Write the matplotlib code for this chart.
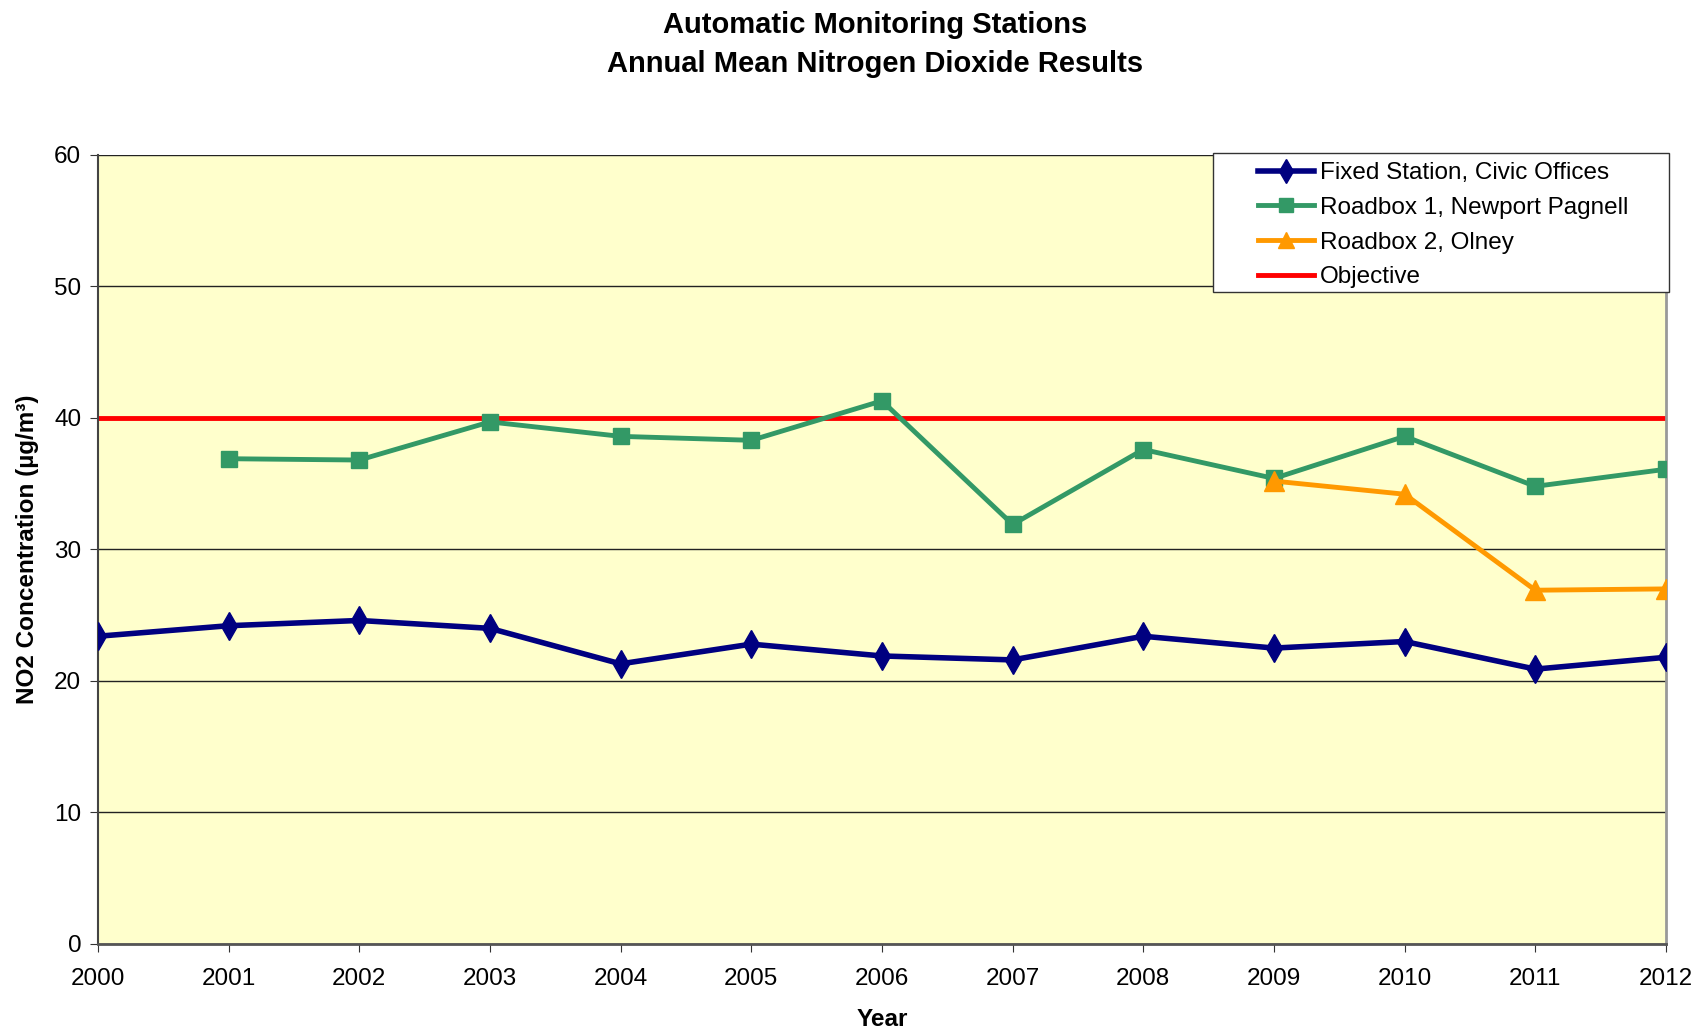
import matplotlib
matplotlib.use("Agg")
import matplotlib.pyplot as plt
from matplotlib.patches import Rectangle

plt.rcParams['font.family'] = ['Liberation Sans', 'DejaVu Sans']

years = list(range(2000, 2013))
fixed_station = [23.4, 24.2, 24.6, 24.0, 21.3, 22.8, 21.9, 21.6, 23.4, 22.5, 23.0, 20.9, 21.8]
roadbox1_years = list(range(2001, 2013))
roadbox1 = [36.9, 36.8, 39.7, 38.6, 38.3, 41.3, 31.9, 37.6, 35.4, 38.6, 34.8, 36.1]
roadbox2_years = [2009, 2010, 2011, 2012]
roadbox2 = [35.2, 34.2, 26.9, 27.0]
objective = 40
y_ticks = [0, 10, 20, 30, 40, 50, 60]

fig = plt.figure(figsize=(17, 10.33), dpi=100, facecolor='w')
ax = fig.add_axes([0.0576, 0.0862, 0.9224, 0.7638])
ax.set_facecolor('#FFFFCC')

ax.plot(years, fixed_station, '-d', color='#000080', lw=4, ms=14,
        label='Fixed Station, Civic Offices', zorder=4)
ax.plot(roadbox1_years, roadbox1, '-s', color='#339966', lw=3.5, ms=11.5,
        label='Roadbox 1, Newport Pagnell', zorder=3)
ax.plot(roadbox2_years, roadbox2, '-^', color='#FF9900', lw=3.5, ms=14,
        label='Roadbox 2, Olney', zorder=5)
ax.plot([years[0], years[-1]], [objective, objective], '-', color='#FF0000',
        lw=3.5, label='Objective', zorder=2)

ax.set_xlim(years[0], years[-1])
ax.set_ylim(0, 60)
ax.set_xticks(years)
ax.set_yticks(y_ticks)
ax.tick_params(axis='both', labelsize=17.5, length=6, color='#333333')
ax.tick_params(axis='x', pad=11)
ax.tick_params(axis='y', pad=6)
ax.yaxis.grid(True, color='#222222', lw=1)
ax.set_axisbelow(True)
ax.spines['top'].set_visible(False)
ax.spines['left'].set_color('#444444')
ax.spines['left'].set_linewidth(1.5)
ax.spines['bottom'].set_color('#555555')
ax.spines['bottom'].set_linewidth(2)
ax.spines['right'].set_color('#999999')
ax.spines['right'].set_linewidth(2)

ax.set_xlabel('Year', fontsize=17.5, fontweight='bold', labelpad=13)
ax.set_ylabel('NO2 Concentration (µg/m³)', fontsize=17.5, fontweight='bold', labelpad=11)

fig.text(0.515, 0.989, 'Automatic Monitoring Stations\nAnnual Mean Nitrogen Dioxide Results',
         ha='center', va='top', fontsize=21, fontweight='bold', linespacing=1.47)

# legend box drawn separately so padding can match the original
ax.add_patch(Rectangle((0.7135, 0.7173), 0.2685, 0.1346, transform=fig.transFigure,
                       facecolor='white', edgecolor='#333333', lw=1, zorder=9,
                       clip_on=False))
leg = ax.legend(loc='upper left', bbox_to_anchor=(0.740, 0.843),
                bbox_transform=fig.transFigure, fontsize=17.5, frameon=False,
                borderpad=0, labelspacing=0.52, handlelength=2.3, handletextpad=0.25,
                borderaxespad=0, markerscale=0.85)
leg.set_zorder(10)

fig.savefig('out.png', dpi=100, facecolor='w')
